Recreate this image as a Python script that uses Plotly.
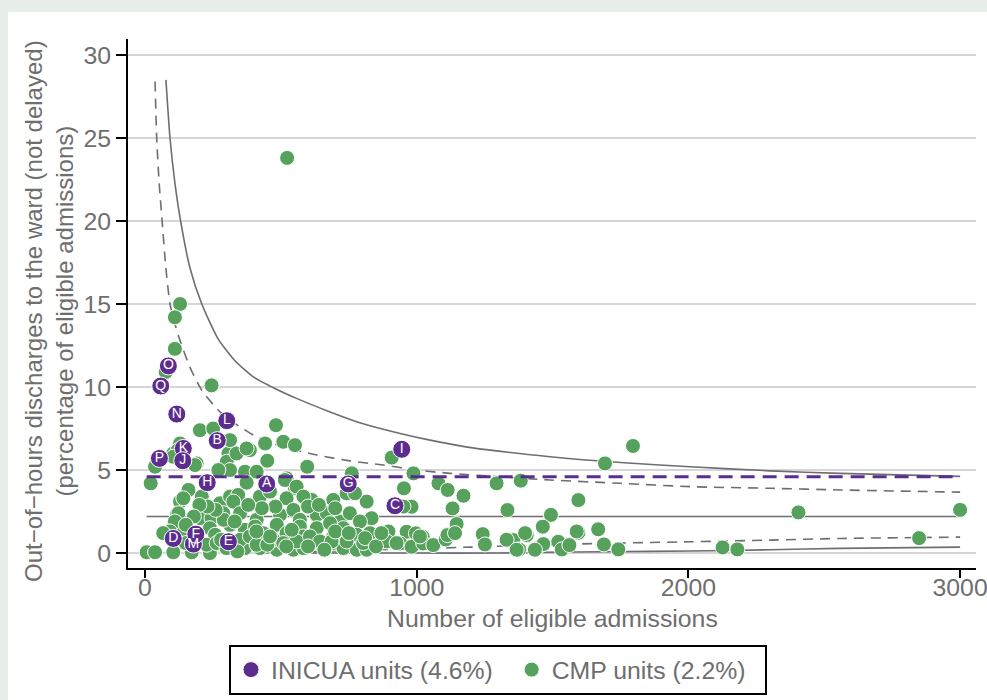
import plotly.graph_objects as go

# ---------------- data ----------------
cmp_n = [523, 129, 110, 110, 76, 245,
         1796, 1693, 2405, 3000, 2849, 2126, 2180,
         908, 988, 953, 1080, 1114, 1172, 1294, 1383, 1595, 981, 1132, 1147, 1334, 1494, 1464,
         1595, 1668, 963, 997, 1022, 939, 981, 1024, 1061, 1107, 1113, 1243, 1251, 1356, 1377,
         1405, 1442, 1466, 1521, 1534, 1562, 1689, 1742,
         482, 442, 509, 552, 450, 597, 386, 202, 251, 104, 129, 121, 190, 307, 301, 337, 374,
         313, 270, 368, 411, 37, 21, 104, 184, 313,
         521, 552, 613, 761, 761, 816, 834, 160, 129, 117, 104, 141, 123, 110, 86,
         374, 515, 558, 209, 276, 313, 343, 325, 423, 460, 521, 583, 693, 742, 773, 951,
         202, 245, 288, 350, 411, 497, 546, 570, 632, 669, 718, 754, 791,
         92, 141, 239, 258, 313, 368, 405, 435, 485, 521, 570, 583, 632, 681, 693, 730, 779,
         828, 896, 1012, 890, 926, 1141, 1331, 1368, 1399, 1435, 1589,
         6, 37, 104, 172, 239, 368, 423, 485, 546, 583, 656, 693, 730, 779, 816,
         67, 227, 264, 350, 386, 411, 472, 509, 558, 607, 644, 687, 742, 803,
         600, 640, 700, 480, 430, 380, 660, 600, 450, 520, 300, 280, 340, 700, 750, 810,
         850, 870, 540, 460, 410, 290, 330, 260, 230, 200, 180, 150, 150]
cmp_v = [23.8, 15.0, 14.2, 12.3, 10.9, 10.1,
         6.45, 5.4, 2.45, 2.6, 0.9, 0.34, 0.22,
         5.75, 4.8, 3.9, 4.2, 3.8, 3.45, 4.2, 4.36, 3.19, 2.79, 2.69, 1.75, 2.59, 2.3, 1.59,
         1.22, 1.43, 1.28, 1.19, 0.98, 0.58, 0.38, 0.58, 0.48, 0.82, 1.08, 1.14, 0.52, 0.78, 0.22,
         1.08, 0.28, 0.54, 0.68, 0.22, 0.48, 0.52, 0.22,
         7.7, 6.6, 6.7, 6.5, 5.56, 5.2, 6.2, 7.4, 7.5, 6.0, 6.6, 6.2, 5.4, 6.0, 5.5, 6.0, 6.3,
         5.0, 5.0, 4.9, 4.9, 5.2, 4.2, 5.8, 5.3, 6.8,
         4.5, 3.9, 3.2, 4.8, 3.6, 3.1, 2.1, 3.8, 3.1, 2.3, 1.6, 3.3, 2.4, 1.9, 1.2,
         4.24, 4.4, 4.0, 3.4, 3.0, 3.4, 3.5, 3.1, 3.4, 3.7, 3.3, 3.4, 3.2, 3.6, 3.6, 2.8,
         2.1, 2.1, 2.4, 2.4, 2.0, 2.3, 2.6, 2.0, 2.3, 2.4, 1.9, 2.4, 1.9,
         1.3, 1.2, 1.5, 1.1, 1.7, 1.4, 1.6, 1.2, 1.7, 1.2, 1.6, 1.0, 1.5, 1.8, 1.0, 1.5, 1.1,
         1.2, 1.3, 1.0, 0.7, 0.6, 1.2, 0.8, 0.2, 1.2, 0.2, 1.3,
         0.05, 0.05, 0.05, 0.05, 0.0, 0.3, 0.3, 0.2, 0.2, 0.3, 0.4, 0.6, 0.3, 0.2, 0.2,
         1.2, 0.5, 0.6, 0.8, 1.0, 0.5, 0.8, 0.6, 0.7, 1.0, 0.7, 0.7, 0.7, 0.6,
         2.8, 2.9, 2.7, 2.8, 2.7, 2.9, 0.2, 0.4, 0.5, 0.4, 0.3, 0.8, 0.1, 1.3, 1.2, 0.9,
         0.4, 1.2, 1.4, 1.0, 1.3, 2.0, 1.9, 2.6, 2.8, 2.9, 2.2, 0.6, 1.7]

inicua_labels = ["K", "M", "A", "B", "C", "D", "E", "F", "G", "H", "I", "J", "L", "N", "O", "P", "Q"]
inicua_n = [141, 178, 448, 266, 920, 104, 307, 187, 748, 229, 945, 139, 301, 117, 86, 53, 58]
inicua_v = [6.3, 0.54, 4.16, 6.77, 2.85, 0.88, 0.68, 1.14, 4.16, 4.24, 6.25, 5.56, 7.97, 8.37, 11.27, 5.7, 10.06]

inicua_rate = 4.6
cmp_rate = 2.2
rate_n = [6, 3000]

upper998_n = [77, 92, 110, 131, 165, 209, 269, 330, 400, 480, 560, 681, 800, 939, 1049, 1200, 1491, 1750, 2006, 2300, 2558, 3000]
upper998_v = [28.5, 25.0, 22.3, 20.0, 17.2, 15.0, 12.9, 11.6, 10.6, 9.9, 9.3, 8.5, 7.8, 7.2, 6.8, 6.35, 5.8, 5.45, 5.2, 4.95, 4.8, 4.62]
upper95_n = [37, 43, 52, 63, 76, 92, 110, 129, 165, 209, 276, 340, 411, 508, 633, 754, 877, 1000, 1123, 1300, 1491, 1750, 2006, 2300, 2558, 3000]
upper95_v = [28.4, 25.0, 22.3, 20.0, 17.3, 15.0, 13.8, 12.8, 11.2, 9.8, 8.5, 7.7, 7.0, 6.4, 5.9, 5.55, 5.3, 5.0, 4.8, 4.6, 4.4, 4.2, 4.0, 3.9, 3.8, 3.67]
lower95_n = [420, 600, 800, 1000, 1200, 1454, 1675, 2006, 2300, 2558, 3000]
lower95_v = [0.0, 0.08, 0.17, 0.26, 0.36, 0.48, 0.58, 0.68, 0.78, 0.88, 0.96]
lower998_n = [580, 1000, 1300, 1454, 1700, 2006, 2300, 2558, 3000]
lower998_v = [0.0, 0.0, 0.0, 0.04, 0.08, 0.12, 0.2, 0.28, 0.36]

x_ticks = [0, 1000, 2000, 3000]
y_ticks = [0, 5, 10, 15, 20, 25, 30]

# ---------------- styling ----------------
PURPLE = "#5c2d8f"
GREEN = "#56a25c"
GRAY = "#6e6e72"
TXT = "#6e6e6e"
PAGE_BG = "#e8eee9"
FONT = "Liberation Sans, Arial, sans-serif"
NB = "\u00a0"

fig = go.Figure()

line_style = dict(color=GRAY, width=1.6)
dash_style = dict(color=GRAY, width=1.6, dash="10px,7px")
for xs, ys, st in [(upper998_n, upper998_v, line_style), (upper95_n, upper95_v, dash_style),
                   (lower95_n, lower95_v, dash_style), (lower998_n, lower998_v, line_style)]:
    fig.add_trace(go.Scatter(x=xs, y=ys, mode="lines", line=dict(**st, shape="spline", smoothing=0.6),
                             showlegend=False, hoverinfo="skip"))
fig.add_trace(go.Scatter(x=rate_n, y=[cmp_rate] * 2, mode="lines", line=line_style,
                         showlegend=False, hoverinfo="skip"))

fig.add_trace(go.Scatter(x=cmp_n, y=cmp_v, mode="markers", name="CMP units (2.2%)" + NB * 2,
                         marker=dict(color=GREEN, size=15, line=dict(color="white", width=1)),
                         legendrank=2))
fig.add_trace(go.Scatter(x=rate_n, y=[inicua_rate] * 2, mode="lines",
                         line=dict(color=PURPLE, width=3, dash="14px,8px"),
                         showlegend=False, hoverinfo="skip"))
fig.add_trace(go.Scatter(x=inicua_n, y=inicua_v, mode="markers+text", name="INICUA units (4.6%)" + NB * 2,
                         text=inicua_labels, textposition="middle center",
                         textfont=dict(color="white", size=14, family=FONT),
                         marker=dict(color=PURPLE, size=18, line=dict(color="white", width=1)),
                         legendrank=1))

L, R, T, B = 128, 11, 39, 132
W, H = 987, 700
pw, ph = W - L - R, H - T - B

def px(xp):
    return (xp - L) / pw

def py(yp):
    return (H - B - yp) / ph

fig.add_shape(type="rect", xref="paper", yref="paper", x0=px(8), x1=px(995), y0=py(705), y1=py(12),
              fillcolor="white", line=dict(width=0), layer="below")

fig.add_annotation(xref="paper", yref="paper", x=px(49), y=py(311), textangle=-90,
                   text="Out\u2212of\u2212hours discharges to the ward (not delayed)<br>(percentage of eligible admissions)",
                   showarrow=False, font=dict(size=24, color=TXT, family=FONT), xanchor="center", yanchor="middle")
fig.add_annotation(xref="paper", yref="paper", x=px(552), y=py(618),
                   text="Number of eligible admissions", showarrow=False,
                   font=dict(size=24.8, color=TXT, family=FONT), xanchor="center", yanchor="middle")

fig.update_layout(
    width=W, height=H,
    margin=dict(l=L, r=R, t=T, b=B, autoexpand=False),
    paper_bgcolor=PAGE_BG, plot_bgcolor="white",
    font=dict(family=FONT, color=TXT, size=24.8),
    legend=dict(orientation="h", x=px(498), xanchor="center", y=py(645), yanchor="top",
                bordercolor="black", borderwidth=2, bgcolor="white",
                font=dict(size=24.8, color=TXT, family=FONT), traceorder="normal"),
)
fig.update_xaxes(range=[-62.6, 3058.5], tickvals=x_ticks, showgrid=False, zeroline=False,
                 showline=True, linecolor="black", linewidth=2, ticks="outside", ticklen=8,
                 tickcolor="black", tickwidth=1.5, tickfont=dict(size=24.8, color=TXT),
                 ticklabeloverflow="allow", ticklabelstandoff=-12, automargin=False)
fig.update_yaxes(range=[-0.9, 30.96], tickvals=y_ticks, showgrid=True, gridcolor="#d6d6da", gridwidth=2,
                 zeroline=False, showline=True, linecolor="black", linewidth=2, ticks="outside", ticklen=10,
                 tickcolor="black", tickwidth=1.5, tickfont=dict(size=24.8, color=TXT), automargin=False)

fig.write_html("out.html", config={"displayModeBar": False},
               post_script="document.body.style.margin='0';document.body.style.background='%s';"
                           "document.body.style.overflow='hidden';" % PAGE_BG)
